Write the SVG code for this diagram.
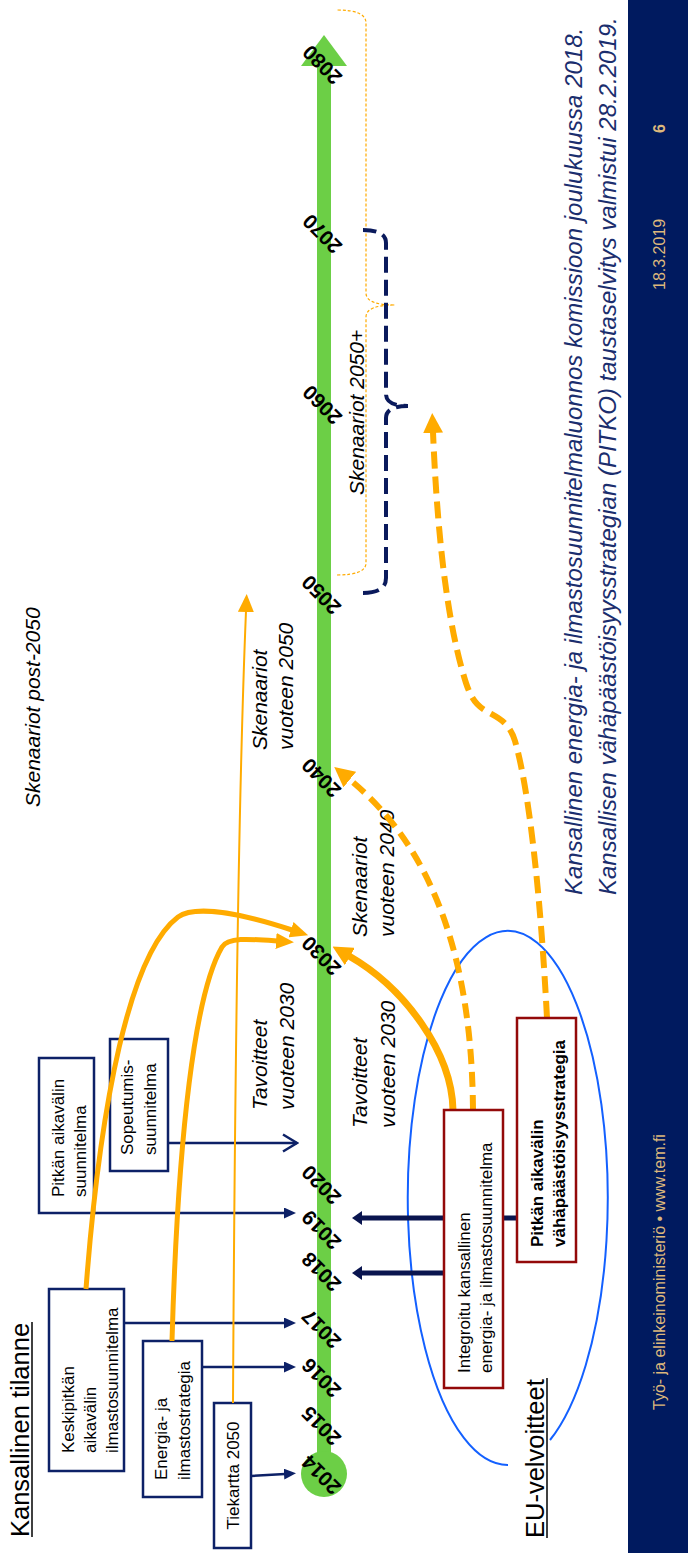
<svg xmlns="http://www.w3.org/2000/svg" width="688" height="1553" viewBox="0 0 688 1553">
<style>
.bx{fill:#fff;stroke:#0D2167;stroke-width:2.5}
.rb{fill:#fff;stroke:#930A0A;stroke-width:2.5}
.t{font-family:"Liberation Sans",Arial,sans-serif;font-size:17px;fill:#000}
.tb{font-family:"Liberation Sans",Arial,sans-serif;font-size:17px;font-weight:bold;fill:#000}
.yr{font-family:"Liberation Sans",Arial,sans-serif;font-size:20.5px;font-weight:bold;fill:#000}
.it{font-family:"Liberation Sans",Arial,sans-serif;font-size:21px;font-style:italic;fill:#000}
.h{font-family:"Liberation Sans",Arial,sans-serif;font-size:25.5px;fill:#000}
.nv{fill:none;stroke:#0D2167;stroke-width:2.5}
.eu{fill:none;stroke:#0A154F;stroke-width:5}
.or{fill:none;stroke:#FFAB00;stroke-width:5}
.ft{font-family:"Liberation Sans",Arial,sans-serif;font-size:16px;fill:#DDB87C}
.rt{font-family:"Liberation Sans",Arial,sans-serif;font-size:24px;font-style:italic;fill:#1B2E6E}
</style>
<defs>
<marker id="ah-or" markerUnits="userSpaceOnUse" viewBox="0 0 20 20" refX="1" refY="10" markerWidth="20" markerHeight="20" orient="auto"><path d="M0,0 L20,10 L0,20 z" fill="#FFAB00"/></marker>
<marker id="ah-or-s" markerUnits="userSpaceOnUse" viewBox="0 0 18 16" refX="1" refY="8" markerWidth="18" markerHeight="16" orient="auto"><path d="M0,0 L18,8 L0,16 z" fill="#FFAB00"/></marker>
<marker id="ah-nv" markerUnits="userSpaceOnUse" viewBox="0 0 12 11" refX="1" refY="5.5" markerWidth="12" markerHeight="11" orient="auto"><path d="M0,0 L12,5.5 L0,11 z" fill="#0D2167"/></marker>
<marker id="ah-open" markerUnits="userSpaceOnUse" viewBox="0 0 17 20" refX="15" refY="10" markerWidth="17" markerHeight="20" orient="auto"><path d="M1,1.5 L15,10 L1,18.5" fill="none" stroke="#0D2167" stroke-width="2.5"/></marker>
<marker id="ah-eu" markerUnits="userSpaceOnUse" viewBox="0 0 10 14" refX="1" refY="7" markerWidth="10" markerHeight="14" orient="auto"><path d="M0,0 L10,7 L0,14 z" fill="#0A154F"/></marker>
</defs>
<rect x="0" y="0" width="688" height="1553" fill="#fff"/>
<g transform="translate(0,1553) rotate(-90)">
  <!-- footer -->
  <g id="footer">
    <rect x="0" y="628" width="1553" height="60" fill="#001A5F"/>
    <text class="ft" x="143" y="665">Työ- ja elinkeinoministeriö • www.tem.fi</text>
    <text class="ft" x="1263" y="665">18.3.2019</text>
    <text class="ft" x="1420" y="665" font-weight="bold">6</text>
  </g>
  <!-- timeline -->
  <g id="timeline">
    <rect x="79" y="317" width="1410" height="14" fill="#6CCF46"/>
    <circle cx="79" cy="324" r="23" fill="#6CCF46"/>
    <polygon points="1487,301 1518,324 1487,347" fill="#6CCF46"/>
    <g class="yr" text-anchor="middle">
      <text transform="translate(78,321) rotate(-45)" dy="0.36em">2014</text>
      <text transform="translate(127,321) rotate(-45)" dy="0.36em">2015</text>
      <text transform="translate(175,321) rotate(-45)" dy="0.36em">2016</text>
      <text transform="translate(224,321) rotate(-45)" dy="0.36em">2017</text>
      <text transform="translate(281,321) rotate(-45)" dy="0.36em">2018</text>
      <text transform="translate(323,321) rotate(-45)" dy="0.36em">2019</text>
      <text transform="translate(368,321) rotate(-45)" dy="0.36em">2020</text>
      <text transform="translate(597,321) rotate(-45)" dy="0.36em">2030</text>
      <text transform="translate(775,321) rotate(-45)" dy="0.36em">2040</text>
      <text transform="translate(958,321) rotate(-45)" dy="0.36em">2050</text>
      <text transform="translate(1148,322) rotate(-45)" dy="0.36em">2060</text>
      <text transform="translate(1319,322) rotate(-45)" dy="0.36em">2070</text>
      <text transform="translate(1488,322) rotate(-45)" dy="0.36em">2080</text>
    </g>
  </g>
  <!-- headings and labels -->
  <g id="kansallinen-tilanne">
    <text class="h" x="16" y="29">Kansallinen tilanne</text>
    <line x1="16" y1="32" x2="231" y2="32" stroke="#000" stroke-width="1.5"/>
  </g>
  <g id="eu-velvoitteet">
    <text class="h" x="15" y="544">EU-velvoitteet</text>
    <line x1="15" y1="547" x2="175" y2="547" stroke="#000" stroke-width="1.5"/>
  </g>
  <g id="labels">
    <text class="it" x="443" y="267">Tavoitteet</text>
    <text class="it" x="443" y="294">vuoteen 2030</text>
    <text class="it" x="425" y="367">Tavoitteet</text>
    <text class="it" x="425" y="395">vuoteen 2030</text>
    <text class="it" x="616" y="367">Skenaariot</text>
    <text class="it" x="616" y="394">vuoteen 2040</text>
    <text class="it" x="803" y="267">Skenaariot</text>
    <text class="it" x="803" y="293">vuoteen 2050</text>
    <text class="it" x="746" y="40">Skenaariot post-2050</text>
    <text class="it" x="1058" y="364">Skenaariot 2050+</text>
    <text class="rt" x="658" y="582">Kansallinen energia- ja ilmastosuunnitelmaluonnos komissioon joulukuussa 2018.</text>
    <text class="rt" x="658" y="616">Kansallisen vähäpäästöisyysstrategian (PITKO) taustaselvitys valmistui 28.2.2019.</text>
  </g>
  <!-- left nodes -->
  <g id="keskipitkan">
    <rect class="bx" x="82" y="49" width="182" height="75"/>
    <text class="t"><tspan x="100" y="74">Keskipitkän</tspan><tspan x="100" y="96">aikavälin</tspan><tspan x="100" y="118">ilmastosuunnitelma</tspan></text>
  </g>
  <g id="energia-ilmastostrategia">
    <rect class="bx" x="56" y="143" width="156" height="59"/>
    <text class="t"><tspan x="73" y="167">Energia- ja</tspan><tspan x="73" y="190">ilmastostrategia</tspan></text>
  </g>
  <g id="tiekartta">
    <rect class="bx" x="5" y="214" width="145" height="37"/>
    <text class="t" x="77.5" y="239" text-anchor="middle">Tiekartta 2050</text>
  </g>
  <g id="pitkan-suunnitelma">
    <rect class="bx" x="340" y="39" width="155" height="55"/>
    <text class="t"><tspan x="356" y="64">Pitkän aikavälin</tspan><tspan x="356" y="86">suunnitelma</tspan></text>
  </g>
  <g id="sopeutumis">
    <rect class="bx" x="382" y="110" width="132" height="58"/>
    <text class="t"><tspan x="398" y="133">Sopeutumis-</tspan><tspan x="398" y="156">suunnitelma</tspan></text>
  </g>
  <!-- connectors -->
  <g id="connectors">
    <path d="M 88 508 A 267 100 0 1 1 113 550" fill="none" stroke="#1360FF" stroke-width="2"/>
    <path class="nv" d="M 230 124 L 230 285" marker-end="url(#ah-nv)"/>
    <path class="nv" d="M 186 202 L 186 285" marker-end="url(#ah-nv)"/>
    <path class="nv" d="M 77 251 L 79 285" marker-end="url(#ah-nv)"/>
    <path class="nv" d="M 340 94 L 340 285" marker-end="url(#ah-nv)"/>
    <path class="nv" d="M 410 168 L 410 297" marker-end="url(#ah-open)"/>
    <path class="eu" d="M 280 444 L 280 361" marker-end="url(#ah-eu)"/>
    <path class="eu" d="M 335 517 L 335 361" marker-end="url(#ah-eu)"/>
    <path class="or" d="M 264 86 C 450 100, 600 130, 636 178 C 648 195, 640 240, 623 292" marker-end="url(#ah-or-s)"/>
    <path class="or" d="M 212 172 C 420 178, 560 195, 606 222 C 616 228, 614 250, 612 277" marker-end="url(#ah-or-s)"/>
    <path fill="none" stroke="#FFAB00" stroke-width="2" d="M 150 233 Q 700 236, 942 246" marker-end="url(#ah-or-s)"/>
    <path fill="none" stroke="#FFAB00" stroke-width="7" d="M 443 453 C 500 452, 565 405, 597 349" marker-end="url(#ah-or)"/>
    <path fill="none" stroke="#FFAB00" stroke-width="6" stroke-dasharray="15 8" d="M 443 473 C 580 472, 700 440, 774 349" marker-end="url(#ah-or)"/>
    <path fill="none" stroke="#FFAB00" stroke-width="6" stroke-dasharray="17 8" d="M 535 547 C 650 541, 760 530, 812 515 C 832 509, 836 496, 842 486 C 848 476, 855 471, 870 466 C 920 450, 1000 438, 1121 433" marker-end="url(#ah-or)"/>
    <path fill="none" stroke="#FFAB00" stroke-width="1.2" stroke-dasharray="3 2" d="M 978 337 Q 978 366 990 366 L 1236 366 Q 1248 366 1248 395 Q 1248 366 1260 366 L 1530 366 Q 1543 366 1543 337"/>
    <path fill="none" stroke="#0A1A5C" stroke-width="4" stroke-dasharray="16 7" d="M 960 363 Q 960 386 975 386 L 1135 386 Q 1147 386 1147 408 Q 1147 386 1159 386 L 1310 386 Q 1323 386 1323 363"/>
  </g>
  <!-- EU nodes -->
  <g id="integroitu">
    <rect class="rb" x="165" y="444" width="278" height="59"/>
    <text class="t"><tspan x="180" y="470">Integroitu kansallinen</tspan><tspan x="180" y="492">energia- ja ilmastosuunnitelma</tspan></text>
  </g>
  <g id="vahapaastoisyysstrategia">
    <rect class="rb" x="291" y="517" width="244" height="59"/>
    <text class="tb"><tspan x="306" y="543">Pitkän aikavälin</tspan><tspan x="306" y="565">vähäpäästöisyysstrategia</tspan></text>
  </g>
</g>
</svg>
